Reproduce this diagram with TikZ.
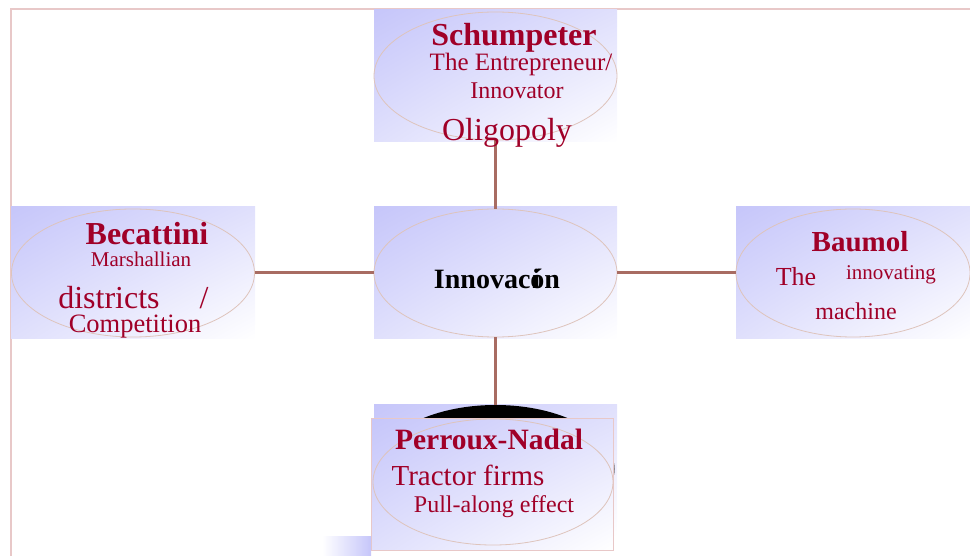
\documentclass[tikz,border=0pt]{standalone}
\usepackage{fontspec}
\setmainfont{Liberation Serif}
\usetikzlibrary{shapes.geometric,shadings}

\definecolor{lav}{RGB}{198,198,250}
\definecolor{dred}{RGB}{160,0,40}
\definecolor{linkc}{RGB}{168,108,98}
\definecolor{rim}{RGB}{222,196,188}
\definecolor{frame}{RGB}{232,200,200}

\tikzset{
  panel/.style={upper left=lav, lower right=white, upper right=lav!55, lower left=lav!55},
  bubble/.style={ellipse, draw=rim, line width=0.8pt, inner sep=0pt, minimum width=243pt, minimum height=128pt},
  link/.style={linkc, line width=3pt},
  head/.style={text=dred, font=\bfseries\fontsize{32}{34}\selectfont, inner sep=0pt},
  big/.style={text=dred, font=\fontsize{32}{34}\selectfont, inner sep=0pt},
  small/.style={text=dred, font=\fontsize{24}{26}\selectfont, inner sep=0pt}
}

\begin{document}
\begin{tikzpicture}[x=1pt, y=-1pt] %mapa
            \useasboundingbox (0,0) rectangle (970,556);
            \draw[frame, line width=1.5pt] (11,556) -- (11,9) -- (970,9);

            % fondos
            \shade[panel] (374,10) rectangle (617,142);
            \shade[panel] (374,207) rectangle (617,339);
            \shade[panel] (11,207) rectangle (255,339);
            \shade[panel] (736,207) rectangle (970,339);
            \shade[panel] (374,404) rectangle (617,536);
            \node[bubble, draw=none, fill=black, minimum width=238pt] (shadow) at (495.5,469) {};
            \shade[panel, draw=frame, line width=1pt] (371,418) rectangle (613,550);
            \shade[left color=white, right color=lav] (322,536) rectangle (371,556);

            % elipses
            \node[bubble] (schump) at (495.5,76) {};
            \node[bubble] (innov) at (495.5,273) {};
            \node[bubble] (becat) at (133,273) {};
            \node[bubble, minimum width=234pt] (baumol) at (853,273) {};
            \node[bubble, minimum width=240pt, minimum height=126pt] (perroux) at (493,482) {};

            \draw[link] (schump.south) -- (innov.north);
            \draw[link] (becat.east) -- (innov.west);
            \draw[link] (innov.east) -- (baumol.west);
            \draw[link] (innov.south) -- (shadow.north);

            % textos
            \node[head] (t1) at (514,38) {Schumpeter};
            \node[small, font=\fontsize{25}{27}\selectfont] (t2) at (521,64) {The Entrepreneur/};
            \node[small] (t3) at (517,91) {Innovator};
            \node[big] (t4) at (507,133) {Oligopoly};

            \node[font=\bfseries\fontsize{28}{30}\selectfont, inner sep=0pt] (t5) at (497,279) {Innovac\rlap{\kern2pt i}ón};

            \node[head] (t6) at (147,234) {Becattini};
            \node[small, font=\fontsize{21}{23}\selectfont] (t7) at (141,259) {Marshallian};
            \node[big] (t8) at (109,298) {districts};
            \node[big] (t9) at (204,298) {/};
            \node[small, font=\fontsize{26.5}{28}\selectfont] (t10) at (135,327) {Competition};

            \node[head, font=\bfseries\fontsize{29}{31}\selectfont] (t11) at (860,242) {Baumol};
            \node[big, font=\fontsize{26}{28}\selectfont] (t12) at (796,277) {The};
            \node[small, font=\fontsize{21}{23}\selectfont] (t13) at (891,275) {innovating};
            \node[small] (t14) at (856,311) {machine};

            \node[head, font=\bfseries\fontsize{29.5}{31}\selectfont] (t15) at (489,439) {Perroux-Nadal};
            \node[big, font=\fontsize{29}{31}\selectfont] (t16) at (468,475) {Tractor firms};
            \node[small] (t17) at (494,507) {Pull-along effect};
        \end{tikzpicture}
\end{document}
